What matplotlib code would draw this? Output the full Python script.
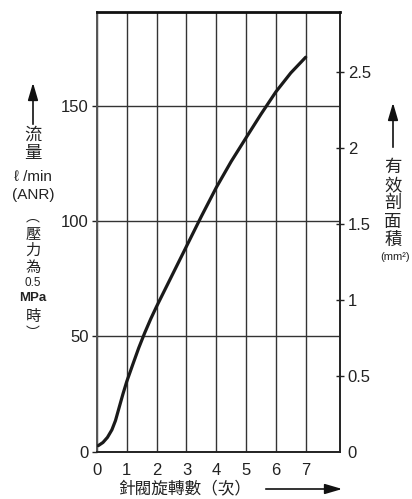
import matplotlib
matplotlib.use("Agg")
import matplotlib.pyplot as plt
from matplotlib.patches import FancyArrowPatch

# ---- data ----
turns = [0.04, 0.2, 0.35, 0.5, 0.62, 0.75, 0.87, 1.0, 1.2, 1.4, 1.6, 1.8, 2.0, 2.5, 3.0, 3.5, 4.0, 4.5, 5.0, 5.5, 6.0, 6.5, 7.0]
flow = [2.6, 4.0, 6.2, 9.5, 13.5, 19.5, 25.0, 30.5, 37.8, 45.0, 51.5, 57.5, 63.0, 76.0, 89.0, 102.0, 114.5, 125.8, 136.1, 146.3, 156.0, 164.2, 171.0]

x_ticks = [0, 1, 2, 3, 4, 5, 6, 7]
x_tick_labels = ["0", "1", "2", "3", "4", "5", "6", "7"]
flow_ticks = [0, 50, 100, 150]
flow_tick_labels = ["0", "50", "100", "150"]
area_ticks = [0, 0.5, 1.0, 1.5, 2.0, 2.5]
area_tick_labels = ["0", "0.5", "1", "1.5", "2", "2.5"]
flow_per_area = 65.85  # l/min per mm^2 (ratio of the two axes)

W, H = 412, 499
NUM = ["Liberation Sans Narrow", "Liberation Sans", "DejaVu Sans"]
CJK = ["Noto Sans CJK TC", "DejaVu Sans"]
TXT = "#222222"

fig = plt.figure(figsize=(W / 100, H / 100), dpi=100)
ax = fig.add_axes([97 / W, 1 - 451.7 / H, (340 - 97) / W, (451.7 - 12) / H])

ax.plot(turns, flow, color="#1a1a1a", lw=2.3, solid_capstyle="round",
        solid_joinstyle="round", zorder=3)

ax.set_xlim(0, 8.15)
ymax = (451.7 - 12) / 2.307
ax.set_ylim(0, ymax)

ax.set_xticks(x_ticks)
ax.set_xticklabels(x_tick_labels, family=NUM, fontsize=12, color=TXT)
ax.set_yticks(flow_ticks)
ax.set_yticklabels(flow_tick_labels, family=NUM, fontsize=12, color=TXT)
ax.tick_params(axis="x", length=0, pad=8)
ax.tick_params(axis="y", direction="out", length=3.5, width=1.0, pad=2.5, color="#222222")
ax.yaxis.get_major_ticks()[0].tick1line.set_visible(False)

ax.grid(True, color="#333333", lw=1.0)

for side in ["left", "right", "bottom"]:
    ax.spines[side].set_linewidth(1.4)
    ax.spines[side].set_color("#222222")
ax.spines["left"].set_color("#555555")
ax.spines["top"].set_linewidth(2.0)
ax.spines["top"].set_color("#111111")

ax2 = ax.twinx()
ax2.set_ylim(0, ymax / flow_per_area)
ax2.set_yticks(area_ticks)
ax2.set_yticklabels(area_tick_labels, family=NUM, fontsize=12, color=TXT)
ax2.tick_params(axis="y", direction="inout", length=6, width=1.0, pad=2.5, color="#222222")
ax2.yaxis.get_major_ticks()[0].tick2line.set_visible(False)
for s in ax2.spines.values():
    s.set_visible(False)


def fx(px):
    return px / W


def fy(py):
    return 1 - py / H


def ftext(px, py, s, size, family=CJK, weight="normal"):
    fig.text(fx(px), fy(py), s, ha="center", va="center", fontsize=size,
             family=family, color=TXT, weight=weight)


def farrow(x0, y0, x1, y1):
    a = FancyArrowPatch((fx(x0), fy(y0)), (fx(x1), fy(y1)), transform=fig.transFigure,
                        arrowstyle="-|>,head_length=0.75,head_width=0.22",
                        mutation_scale=14, lw=1.2, color="#111111")
    fig.add_artist(a)


# left axis title
farrow(33, 127, 33, 80)
ftext(33, 135, "流", 12.5)
ftext(33, 153, "量", 12.5)
ftext(33, 177, "ℓ /min", 11, family=["Liberation Sans", "DejaVu Sans"])
ftext(33, 195, "(ANR)", 11, family=["Liberation Sans", "DejaVu Sans"])
ftext(33, 217, "︵", 10)
ftext(33, 234, "壓", 11)
ftext(33, 250, "力", 11)
ftext(33, 267, "為", 11)
ftext(33, 283, "0.5", 8.5, family=["Liberation Sans", "DejaVu Sans"])
ftext(33, 298, "MPa", 9.5, family=["Liberation Sans", "DejaVu Sans"], weight="bold")
ftext(33, 317, "時", 11)
ftext(33, 333, "︶", 10)

# right axis title
farrow(393, 150, 393, 100)
for py, ch in zip([167, 185, 203, 222, 240], ["有", "效", "剖", "面", "積"]):
    ftext(393, py, ch, 12.5)
ftext(395, 257, "(mm²)", 8, family=NUM)

# bottom axis title
ftext(185, 489, "針閥旋轉數（次）", 12)
farrow(263, 489, 345, 489)

fig.savefig("out.png", dpi=100)
